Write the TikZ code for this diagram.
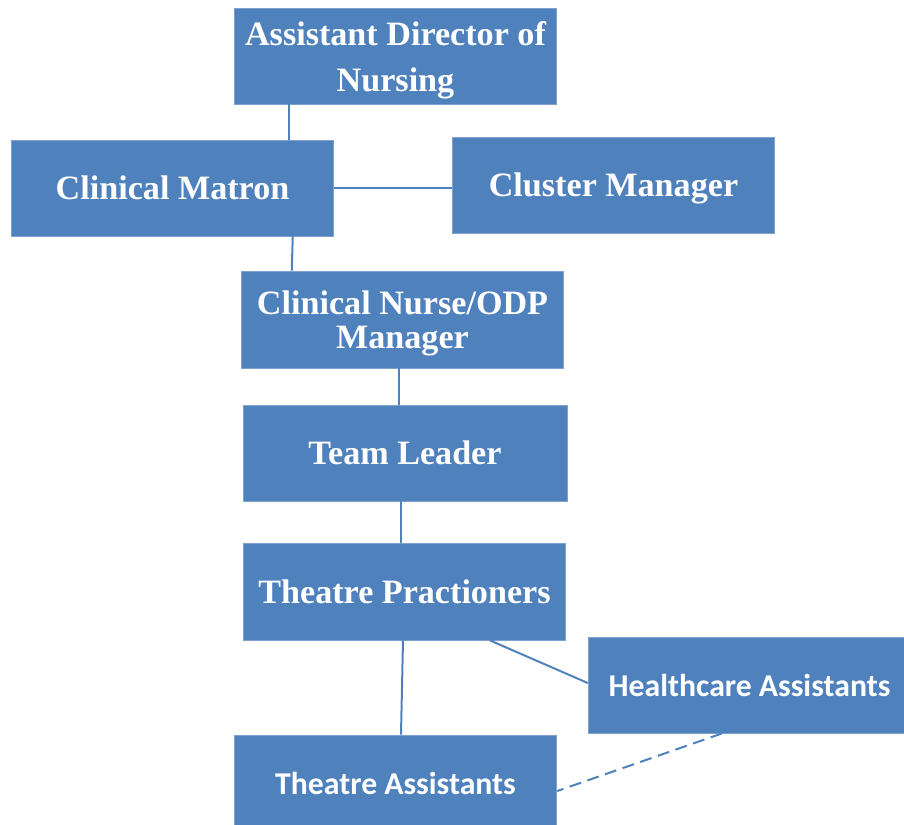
\documentclass[tikz,border=0pt]{standalone}
\usepackage{fontspec}
\setmainfont{Liberation Serif}
\newfontfamily\calfont{Carlito}
\usetikzlibrary{calc}
\definecolor{boxblue}{HTML}{4F81BD}
\definecolor{rimblue}{HTML}{7EA1CF}

\begin{document}
\begin{tikzpicture}[x=0.75pt, y=-0.75pt,
    box/.style={rectangle, fill=boxblue, draw=rimblue, line width=0.6pt, text=white, minimum width=242pt, minimum height=72pt, inner sep=0pt, align=center, font=\bfseries\fontsize{25.6}{30}\selectfont},
    sansbox/.style={box, font=\calfont\bfseries\fontsize{23.8}{28}\selectfont},
    link/.style={draw=boxblue, line width=1.5pt}]
			\useasboundingbox (0,0) rectangle (904,825);
			\clip (0,0) rectangle (904,825);
			\node[box, text depth=0pt, font=\bfseries\fontsize{25.6}{34.5}\selectfont] (adn) at (395.5,56) {Assistant Director of\\Nursing};
			\node[box] (matron) at (172.5,188) {Clinical Matron};
			\node[box, text depth=0pt] (cluster) at (613.5,185) {Cluster Manager};
			\node[box, text depth=0pt, minimum height=72.75pt, font=\bfseries\fontsize{25.6}{25.5}\selectfont] (cnm) at (402.5,319.5) {Clinical Nurse/ODP\\Manager};
			\node[box, minimum width=243pt] (leader) at (405,453) {Team Leader};
			\node[box, minimum height=72.75pt] (pract) at (404.5,591.5) {Theatre Practioners};
			\node[sansbox] (hca) at (749.5,685) {Healthcare Assistants};
			\node[sansbox] (ta) at (395.5,783) {Theatre Assistants};
			
			\path[link] ($(adn.south west)+(55,0)$) -- ($(matron.north west)+(278,0)$);
			\path[link] (matron.east) -- (matron.east -| cluster.west);
			\path[link] ($(matron.south west)+(282,0)$) -- ($(cnm.north west)+(51,0)$);
			\path[link] ($(cnm.south)+(-3.5,0)$) -- ($(leader.north)+(-6,0)$);
			\path[link] ($(leader.south)+(-4,0)$) -- ($(pract.north)+(-3.5,0)$);
			\path[link] ($(pract.south)+(-1.5,0)$) -- ($(ta.north)+(5.5,0)$);
			\path[link] ($(pract.south)+(85.5,0)$) -- ($(hca.west)+(0,-2)$);
			\path[link, dash pattern=on 9pt off 5pt] ($(hca.south)+(-27.5,0)$) -- ($(ta.east)+(0,8)$);
			\end{tikzpicture}
\end{document}
